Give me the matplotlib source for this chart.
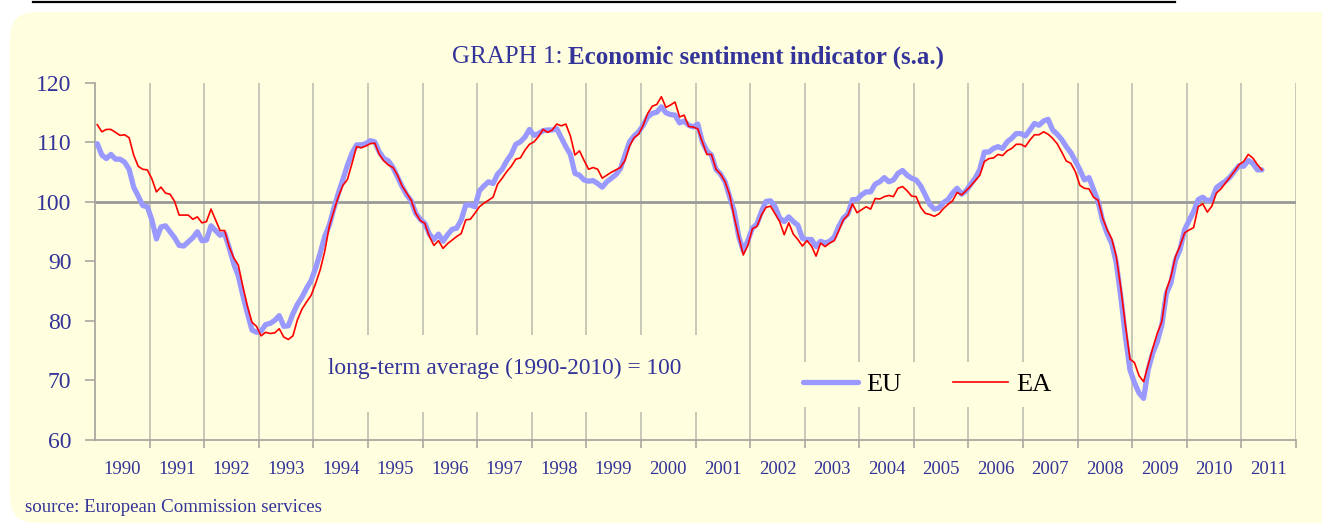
import numpy as np
import matplotlib.pyplot as plt
from matplotlib.patches import FancyBboxPatch, Rectangle
from matplotlib.lines import Line2D
from matplotlib.transforms import IdentityTransform

# monthly values, Jan 1990 - May 2011
years = list(range(1990, 2012))

eu = [109.8, 107.9, 107.3, 108.0, 107.2, 107.2, 106.7, 105.5, 102.5, 101.0, 99.4, 99.2,
      97.0, 93.8, 95.8, 96.0, 95.0, 94.0, 92.7, 92.6, 93.3, 94.0, 95.0, 93.5,
      93.6, 96.0, 95.2, 94.4, 94.7, 92.3, 89.6, 87.6, 84.3, 81.3, 78.5, 78.1,
      78.3, 79.4, 79.6, 80.1, 80.9, 79.1, 79.2, 81.2, 82.8, 84.0, 85.5, 86.8,
      88.9, 91.4, 94.2, 96.1, 98.9, 101.5, 103.8, 106.2, 108.2, 109.6, 109.6, 109.8,
      110.3, 110.1, 108.4, 107.3, 106.9, 105.8, 104.2, 102.6, 101.2, 100.2, 98.1, 97.1,
      96.4, 94.6, 93.7, 94.6, 93.4, 94.5, 95.4, 95.6, 97.0, 99.5, 99.5, 99.2,
      101.9, 102.7, 103.4, 103.1, 104.7, 105.5, 106.9, 108.0, 109.7, 110.1, 110.9, 112.2,
      111.2, 111.5, 112.0, 112.1, 112.1, 112.3, 110.8, 109.3, 108.0, 104.8, 104.5, 103.7,
      103.5, 103.6, 103.1, 102.5, 103.4, 104.0, 104.6, 105.6, 107.9, 110.1, 111.1, 111.8,
      112.9, 114.3, 114.9, 115.1, 116.0, 115.0, 114.7, 114.6, 113.3, 113.6, 112.9, 112.6,
      113.1, 110.1, 108.6, 107.9, 105.5, 104.7, 103.4, 100.9, 98.4, 94.2, 91.8, 93.5,
      95.6, 96.3, 98.4, 100.1, 100.2, 99.2, 97.3, 96.7, 97.5, 96.7, 96.1, 93.9,
      93.7, 93.7, 92.5, 93.4, 93.1, 93.4, 94.1, 95.9, 97.3, 98.0, 100.4, 100.4,
      101.2, 101.7, 101.7, 103.0, 103.4, 104.1, 103.4, 103.7, 104.8, 105.3, 104.5, 104.0,
      103.7, 102.7, 101.2, 99.6, 98.8, 99.0, 99.9, 100.4, 101.5, 102.3, 101.3, 101.9,
      103.0, 104.0, 105.5, 108.4, 108.4, 109.0, 109.3, 109.0, 110.1, 110.7, 111.5, 111.5,
      111.1, 112.1, 113.2, 112.9, 113.6, 113.9, 112.1, 111.4, 110.5, 109.3, 108.3, 106.9,
      105.4, 103.7, 104.1, 102.1, 100.1, 96.8, 94.7, 93.0, 89.8, 84.0, 77.4, 71.8,
      69.6, 67.9, 67.0, 71.8, 74.6, 76.5, 79.3, 84.6, 86.4, 90.2, 92.0, 95.3,
      96.9, 98.4, 100.4, 100.8, 100.2, 100.4, 102.4, 103.0, 103.5, 104.2, 105.2, 106.1,
      106.0, 107.0, 106.5, 105.4, 105.4]

ea = [113.0, 111.8, 112.2, 112.2, 111.7, 111.2, 111.3, 110.8, 107.9, 106.0, 105.5, 105.4,
      103.9, 101.7, 102.5, 101.5, 101.3, 100.1, 97.8, 97.8, 97.8, 97.1, 97.5, 96.5,
      96.7, 98.8, 97.0, 95.2, 95.2, 92.5, 90.6, 89.4, 85.8, 82.5, 79.8, 79.1,
      77.5, 78.1, 77.9, 78.0, 78.7, 77.3, 76.9, 77.5, 80.2, 82.0, 83.2, 84.3,
      86.3, 88.6, 91.7, 95.9, 98.5, 100.9, 102.8, 103.8, 106.5, 109.3, 109.1, 109.4,
      109.8, 109.9, 108.0, 106.9, 106.2, 105.8, 104.5, 102.7, 101.5, 100.3, 98.1, 96.9,
      96.4, 94.2, 92.7, 93.5, 92.2, 93.0, 93.6, 94.2, 94.7, 97.0, 97.1, 98.1,
      99.2, 99.8, 100.3, 100.8, 103.0, 104.0, 105.1, 106.0, 107.2, 107.4, 108.7, 109.7,
      110.1, 111.0, 112.2, 111.7, 112.1, 113.1, 112.8, 113.1, 111.1, 107.9, 108.6, 107.0,
      105.5, 105.8, 105.5, 104.0, 104.5, 105.0, 105.4, 105.8, 107.0, 109.4, 110.8, 111.4,
      112.9, 114.9, 116.1, 116.4, 117.7, 115.9, 116.3, 116.8, 114.3, 114.6, 112.7, 112.6,
      112.3, 110.1, 108.0, 108.0, 105.5, 104.7, 103.4, 101.2, 97.5, 94.2, 91.1, 92.7,
      95.5, 95.9, 97.8, 99.1, 99.3, 98.0, 96.7, 94.5, 96.5, 94.6, 93.7, 92.6,
      93.5, 92.6, 90.9, 93.1, 92.5, 93.1, 93.5, 95.2, 97.0, 97.8, 99.7, 98.2,
      98.7, 99.2, 98.8, 100.6, 100.5, 100.9, 101.1, 100.9, 102.3, 102.6, 101.9, 101.0,
      100.9, 99.1, 98.1, 97.9, 97.6, 98.0, 98.9, 99.6, 100.2, 101.6, 101.2, 101.9,
      102.7, 103.6, 104.5, 106.8, 107.3, 107.4, 108.0, 107.8, 108.6, 109.0, 109.7, 109.7,
      109.3, 110.4, 111.3, 111.3, 111.8, 111.4, 110.7, 109.8, 108.4, 106.9, 106.5, 105.1,
      102.8, 102.3, 102.2, 100.8, 100.3, 97.3, 95.3, 93.8, 90.8, 85.5, 79.3, 73.6,
      73.0, 70.8, 69.8, 72.6, 75.4, 77.9, 79.9, 85.2, 87.4, 90.8, 92.6, 94.8,
      95.3, 95.7, 99.2, 99.7, 98.3, 99.3, 101.5, 102.2, 103.2, 104.2, 105.2, 106.3,
      106.8, 108.0, 107.4, 106.3, 105.4]

BG = '#FFFFE0'
TXT = '#333399'
W, H = 1322, 523

plt.rcParams['font.family'] = ['Liberation Serif', 'DejaVu Serif']

fig = plt.figure(figsize=(W / 100, H / 100), dpi=100)

# rounded yellow panel + black rule on top (pixel coords)
panel = FancyBboxPatch((10, 0), 1400, H - 12, boxstyle='round,pad=0,rounding_size=26',
                       transform=IdentityTransform(), facecolor=BG, edgecolor='none',
                       zorder=-5)
fig.patches.append(panel)
fig.add_artist(Line2D([33 / W, 1175 / W], [1 - 2 / H, 1 - 2 / H], color='black', lw=1.6))

# axes box in pixels
X0, X1, Y0, Y1 = 95, 1296, 83, 440
ax = fig.add_axes([X0 / W, 1 - Y1 / H, (X1 - X0) / W, (Y1 - Y0) / H])
ax.set_facecolor(BG)
ax.set_zorder(1)

def axfx(px):
    return (px - X0) / (X1 - X0)

def axfy(py):
    return (Y1 - py) / (Y1 - Y0)

x = np.arange(len(eu))
ax.plot(x, eu, color='#9999FF', lw=3.8, solid_capstyle='round', solid_joinstyle='round',
        label='EU', zorder=4)
ax.plot(x, ea, color='red', lw=1.2, label='EA', zorder=5)

nm = len(years) * 12
bounds = np.arange(1, len(years) + 1) * 12 - 0.5
ax.set_xlim(-0.5, nm - 0.5)
ax.set_ylim(60, 120)

ax.set_xticks(bounds)
ax.set_xticklabels([])
ax.set_xticks(np.arange(len(years)) * 12 + 5.5, minor=True)
ax.set_xticklabels([str(y) for y in years], minor=True)
ax.tick_params(axis='x', which='major', length=6, width=1.2, color='#A8A8A0', direction='out')
ax.tick_params(axis='x', which='minor', length=0, pad=15, labelsize=13.5, labelcolor=TXT)
ax.grid(axis='x', which='major', color='#C4C4B4', lw=1.3, zorder=1)

ax.set_yticks(range(60, 121, 10))
ax.tick_params(axis='y', length=7, width=1.2, color='#A8A8A0', pad=10,
               labelsize=17, labelcolor=TXT)
ax.axhline(100, color='#999999', lw=2, zorder=2)

for s in ['top', 'right']:
    ax.spines[s].set_visible(False)
for s in ['left', 'bottom']:
    ax.spines[s].set_color('#A8A8A0')
    ax.spines[s].set_linewidth(1.3)

# boxes that hide the grid behind the note and the legend
ax.add_patch(Rectangle((axfx(317), axfy(412)), axfx(748) - axfx(317), axfy(335) - axfy(412),
                       transform=ax.transAxes, facecolor=BG, edgecolor='none', zorder=3))
ax.add_patch(Rectangle((axfx(752), axfy(407)), axfx(1076) - axfx(752), axfy(362) - axfy(407),
                       transform=ax.transAxes, facecolor=BG, edgecolor='none', zorder=3))

ax.text(axfx(328), axfy(368), 'long-term average (1990-2010) = 100', transform=ax.transAxes,
        ha='left', va='center', fontsize=16.8, color=TXT, zorder=6)

leg = ax.legend(loc='center left', bbox_to_anchor=(axfx(803), axfy(384)), ncol=2, frameon=False,
                fontsize=19, handlelength=2.1, handletextpad=0.3, columnspacing=1.95,
                borderpad=0, borderaxespad=0)
leg.set_zorder(6)

# title
fig.text(563 / W, 1 - 57 / H, 'GRAPH 1:', ha='right', va='center', fontsize=18, color=TXT)
fig.text(568 / W, 1 - 57 / H, 'Economic sentiment indicator (s.a.)', ha='left', va='center',
         fontsize=18, fontweight='bold', color=TXT)

fig.text(25 / W, 1 - 508 / H, 'source: European Commission services', ha='left', va='center',
         fontsize=13.6, color=TXT)

fig.savefig('out.png', dpi=100, facecolor='white')
